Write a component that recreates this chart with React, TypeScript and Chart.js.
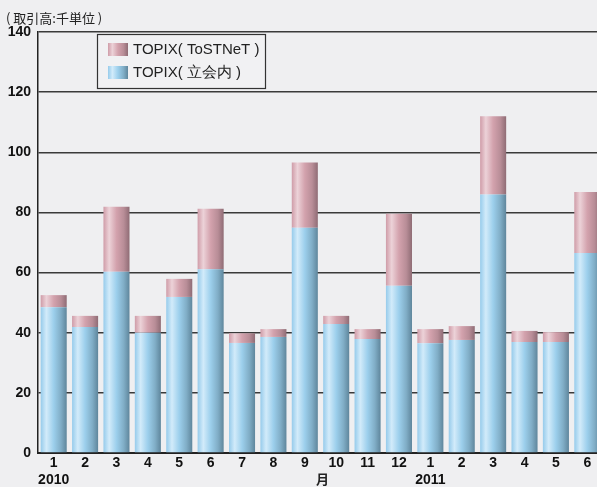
import React, { useEffect, useRef } from "react";
import { Chart, registerables } from "chart.js";

Chart.register(...registerables);

const monthLabels: string[][] = [
  ["1", "2010"], ["2"], ["3"], ["4"], ["5"], ["6"], ["7"], ["8"], ["9"], ["10"], ["11"], ["12"],
  ["1", "2011"], ["2"], ["3"], ["4"], ["5"], ["6"],
];
const tachiaiValues = [48.5, 41.9, 60.3, 40.0, 51.9, 61.1, 36.6, 38.6, 74.9, 42.9, 37.9, 55.6, 36.5, 37.6, 86.0, 36.9, 36.9, 66.5];
const tostnetValues = [4.0, 3.7, 21.6, 5.6, 6.0, 20.1, 3.2, 2.6, 21.7, 2.7, 3.3, 24.0, 4.7, 4.6, 26.0, 3.7, 3.3, 20.3];
const seriesNames = ["TOPIX( 立会内 )", "TOPIX( ToSTNeT )"];
const unitLabel = "( 取引高:千単位 )";
const axisMonthLabel = "月";

const BAR_PCT = 0.83;
const blueStops: [number, string][] = [
  [0, "#96cbeb"], [0.22, "#d2ebfa"], [0.5, "#9ccfec"], [0.78, "#80adc6"], [1, "#5f869c"],
];
const pinkStops: [number, string][] = [
  [0, "#cf9ca8"], [0.22, "#ecd2d8"], [0.5, "#d3a2ad"], [0.78, "#b88d97"], [1, "#8f6c75"],
];
const NUM_FONT = "'Liberation Sans', Arial, sans-serif";

function makeGrad(ctx: CanvasRenderingContext2D, x0: number, x1: number, stops: [number, string][]) {
  const g = ctx.createLinearGradient(x0, 0, x1, 0);
  stops.forEach(([o, c]) => g.addColorStop(o, c));
  return g;
}

function barBg(stops: [number, string][]) {
  return (c: any) => {
    const chart = c.chart;
    const xs = chart.scales?.x;
    if (!xs || c.dataIndex === undefined || !xs.width) return stops[1][1];
    const cx = xs.getPixelForValue(c.dataIndex);
    const w = (xs.width / monthLabels.length) * BAR_PCT;
    return makeGrad(chart.ctx, cx - w / 2, cx + w / 2, stops);
  };
}

const extrasPlugin = {
  id: "extras",
  afterDraw(chart: any) {
    const ctx: CanvasRenderingContext2D = chart.ctx;
    const xs = chart.scales.x;
    ctx.save();
    ctx.fillStyle = "#222";
    ctx.font = "13px 'Noto Sans CJK JP', sans-serif";
    ctx.textAlign = "left";
    ctx.textBaseline = "middle";
    ctx.fillText(unitLabel, 6, 18);
    const mx = (xs.getPixelForValue(8) + xs.getPixelForValue(9)) / 2;
    ctx.font = "bold 13px 'Noto Sans CJK JP', sans-serif";
    ctx.textAlign = "center";
    ctx.fillText(axisMonthLabel, mx + 2, 479);
    const lx = 97.5, ly = 34.5, lw = 168, lh = 54;
    ctx.fillStyle = "#f1f1f3";
    ctx.fillRect(lx, ly, lw, lh);
    ctx.strokeStyle = "#333";
    ctx.lineWidth = 1.2;
    ctx.strokeRect(lx, ly, lw, lh);
    const items: [string, [number, string][], number][] = [
      [seriesNames[1], pinkStops, 50],
      [seriesNames[0], blueStops, 73],
    ];
    ctx.font = "15px 'Liberation Sans', Arial, sans-serif";
    ctx.textAlign = "left";
    ctx.textBaseline = "middle";
    items.forEach(([name, stops, y]) => {
      ctx.fillStyle = makeGrad(ctx, 108, 128, stops);
      ctx.fillRect(108, y - 7, 20, 13);
      ctx.fillStyle = "#222";
      ctx.fillText(name, 133, y);
    });
    ctx.restore();
  },
};

export default function App() {
  const ref = useRef<HTMLCanvasElement | null>(null);
  useEffect(() => {
    if (!ref.current) return;
    const chart = new Chart(ref.current, {
      type: "bar",
      data: {
        labels: monthLabels,
        datasets: [
          { label: seriesNames[0], data: tachiaiValues, backgroundColor: barBg(blueStops) as any, barPercentage: BAR_PCT, categoryPercentage: 1, borderWidth: 0 },
          { label: seriesNames[1], data: tostnetValues, backgroundColor: barBg(pinkStops) as any, barPercentage: BAR_PCT, categoryPercentage: 1, borderWidth: 0 },
        ],
      },
      options: {
        animation: false,
        responsive: false,
        devicePixelRatio: 1,
        layout: { padding: { left: 0, top: 32, right: 0, bottom: 0 } },
        plugins: { legend: { display: false }, tooltip: { enabled: false } },
        scales: {
          x: {
            stacked: true,
            grid: { display: false, drawTicks: false },
            border: { display: true, color: "#222", width: 2 },
            ticks: { color: "#111", font: { family: NUM_FONT, size: 14, weight: "bold", lineHeight: 1.2 }, padding: 2, maxRotation: 0, autoSkip: false },
            afterFit: (s: any) => { s.height = 34; },
          },
          y: {
            stacked: true,
            min: 0,
            max: 140,
            grid: { color: "#3a3a3a", lineWidth: 1.5, drawTicks: false },
            border: { display: true, color: "#222", width: 1.5 },
            ticks: { stepSize: 20, color: "#111", font: { family: NUM_FONT, size: 14, weight: "bold" }, padding: 7 },
            afterFit: (s: any) => { s.width = 38; },
          },
        },
      },
      plugins: [extrasPlugin],
    });
    return () => chart.destroy();
  }, []);
  return (
    <div style={{ position: "fixed", left: 0, top: 0, width: 597, height: 487, overflow: "hidden", background: "#efeff1" }}>
      <canvas ref={ref} width={603} height={487} style={{ display: "block" }} />
    </div>
  );
}
